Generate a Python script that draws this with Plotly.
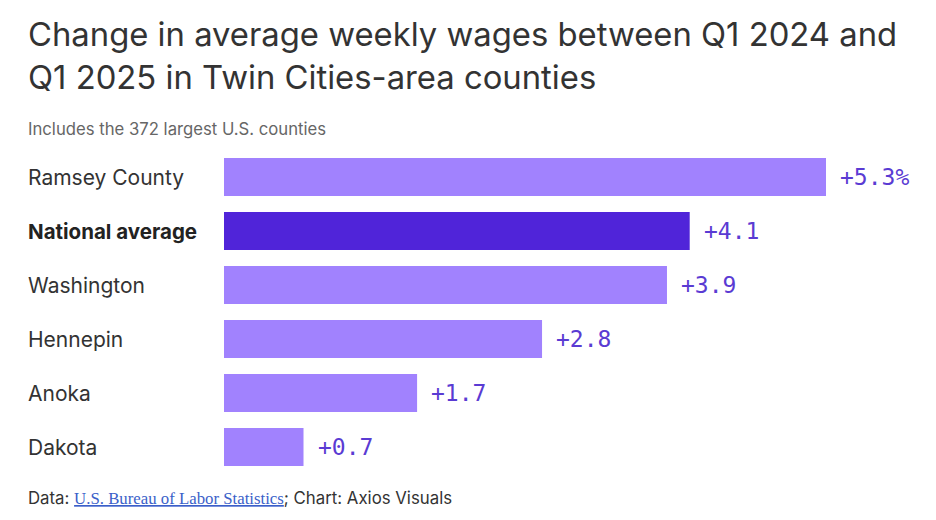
import plotly.graph_objects as go

# Data
categories = ["Ramsey County", "National average", "Washington", "Hennepin", "Anoka", "Dakota"]
changes = [5.3, 4.1, 3.9, 2.8, 1.7, 0.7]
value_labels = ["+5.3%", "+4.1", "+3.9", "+2.8", "+1.7", "+0.7"]
highlight = "National average"

LIGHT = "#a182fe"
DARK = "#5024d9"
LABEL_PURPLE = "#5a3bd3"
TEXT = "#333333"
SANS = "Inter, Roboto, sans-serif"
MONO = "DejaVu Sans Mono, Liberation Mono, monospace"

# page sits 8px in from the window corner; plot area in figure pixels
OFF = 8
TOP, BOTTOM = 150 - OFF, 474 - OFF
LEFT = 28 - OFF
BAR0 = 224 - OFF
W, H = 936, 520


def ypix(p):
    """Reference pixel row -> paper y coordinate."""
    return (BOTTOM - (p - OFF)) / (BOTTOM - TOP)


colors = [DARK if c == highlight else LIGHT for c in categories]

fig = go.Figure()
fig.add_trace(go.Bar(
    x=changes, y=categories, orientation="h",
    marker=dict(color=colors, line=dict(width=0)),
    hoverinfo="skip",
))

annotations = []

# category labels, left aligned at the page margin
for cat in categories:
    bold = cat == highlight
    annotations.append(dict(
        x=0, xref="paper", y=cat, yref="y", xshift=-2,
        text=f"<b>{cat}</b>" if bold else cat,
        xanchor="left", yanchor="middle", showarrow=False,
        font=dict(family=SANS, size=21 if not bold else 20.5,
                  color="#222222" if bold else TEXT),
    ))

# value labels to the right of each bar
for cat, val, lab in zip(categories, changes, value_labels):
    annotations.append(dict(
        x=val, xref="x", y=cat, yref="y", text=lab,
        xanchor="left", yanchor="middle", xshift=12, showarrow=False,
        font=dict(family=MONO, size=23, color=LABEL_PURPLE),
    ))

# title, subtitle, footer
annotations += [
    dict(x=0, xref="paper", y=ypix(34), yref="paper", xshift=-2,
         text="Change in average weekly wages between Q1 2024 and",
         xanchor="left", yanchor="middle", showarrow=False,
         font=dict(family=SANS, size=32.8, color=TEXT)),
    dict(x=0, xref="paper", y=ypix(77), yref="paper", xshift=-2,
         text="Q1 2025 in Twin Cities-area counties",
         xanchor="left", yanchor="middle", showarrow=False,
         font=dict(family=SANS, size=32.8, color=TEXT)),
    dict(x=0, xref="paper", y=ypix(129), yref="paper", xshift=-2,
         text="Includes the 372 largest U.S. counties",
         xanchor="left", yanchor="middle", showarrow=False,
         font=dict(family=SANS, size=16.7, color="#666666")),
    dict(x=0, xref="paper", y=ypix(498), yref="paper", xshift=-2,
         text=("Data: <a href=\"https://www.bls.gov/\" style=\"color:#3b5fc9;"
               "font-family:Liberation Serif;text-decoration:underline\">"
               "U.S. Bureau of Labor Statistics</a>; Chart: Axios Visuals"),
         xanchor="left", yanchor="middle", showarrow=False,
         font=dict(family=SANS, size=16.8, color=TEXT)),
]

plot_w = W - LEFT
fig.update_layout(
    width=W, height=H,
    margin=dict(l=LEFT, r=0, t=TOP, b=H - BOTTOM, pad=0),
    paper_bgcolor="white", plot_bgcolor="white",
    showlegend=False,
    bargap=0.296,
    xaxis=dict(domain=[(BAR0 - LEFT) / plot_w, 1],
               range=[0, (W - BAR0) / ((826 - 224) / 5.3)],
               visible=False, fixedrange=True),
    yaxis=dict(autorange="reversed", visible=False, fixedrange=True),
    annotations=annotations,
)

fig.write_html("out.html", config={"displayModeBar": False})
